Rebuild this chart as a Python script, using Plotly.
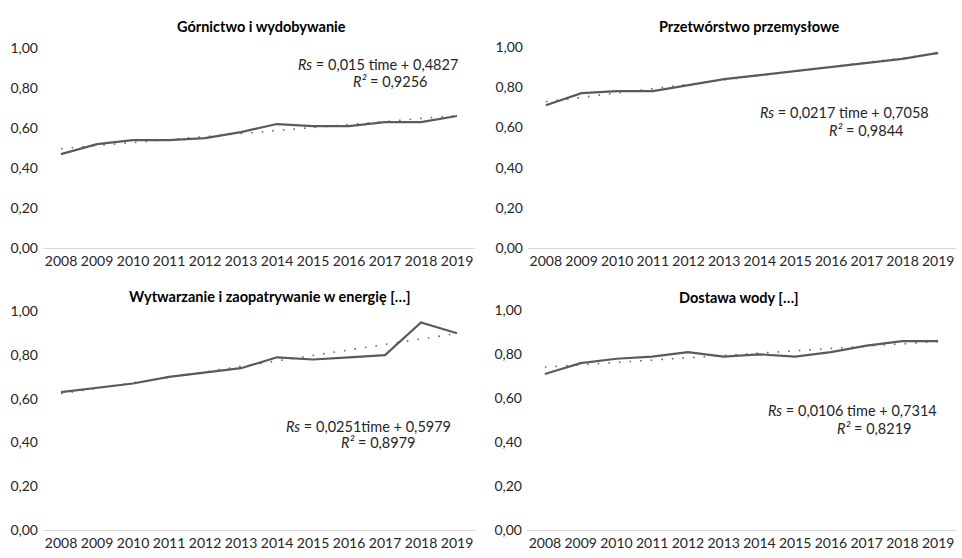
import plotly.graph_objects as go

years = [str(y) for y in range(2008, 2020)]

# Rs series per sector
gornictwo = [0.47, 0.52, 0.54, 0.54, 0.55, 0.58, 0.62, 0.61, 0.61, 0.63, 0.63, 0.66]
przetworstwo = [0.71, 0.77, 0.78, 0.78, 0.81, 0.84, 0.86, 0.88, 0.90, 0.92, 0.94, 0.97]
energia = [0.63, 0.65, 0.67, 0.70, 0.72, 0.74, 0.79, 0.78, 0.79, 0.80, 0.95, 0.90]
woda = [0.71, 0.76, 0.78, 0.79, 0.81, 0.79, 0.80, 0.79, 0.81, 0.84, 0.86, 0.86]

titles = ["Górnictwo i wydobywanie", "Przetwórstwo przemysłowe",
          "Wytwarzanie i zaopatrywanie w energię […]", "Dostawa wody […]"]

# linear trend coefficients (slope, intercept)
slopes = [0.015, 0.0217, 0.0251, 0.0106]
intercepts = [0.4827, 0.7058, 0.5979, 0.7314]
eq_texts = ["<i>Rs</i> = 0,015 time + 0,4827", "<i>Rs</i> = 0,0217 time + 0,7058",
            "<i>Rs</i> = 0,0251time + 0,5979", "<i>Rs</i> = 0,0106 time + 0,7314"]
r2_texts = ["<i>R²</i> = 0,9256", "<i>R²</i> = 0,9844", "<i>R²</i> = 0,8979", "<i>R²</i> = 0,8219"]

series = [gornictwo, przetworstwo, energia, woda]

W, H = 962, 558
# plot areas in pixels: (left, right, top(y=1.0), bottom(y=0))
areas = [(43, 475, 40, 247), (528, 956, 39, 247),
         (43, 475, 312, 537), (527, 956, 311, 537)]
title_pos = [(261, 18), (749, 18), (269, 297), (739, 298)]
# equation label anchors: (right x line1, y line1, right x line2, y line2)
eq_pos = [(460, 57, 430, 75), (931, 107, 906, 125),
          (453, 431, 418, 447), (939, 414, 914, 433)]

FONT = "Lato"
LINE = "#5a5a5a"
TXT = "#262626"

fig = go.Figure()
layout_axes = {}
annotations = []
for i in range(4):
    xa = "x" if i == 0 else f"x{i+1}"
    ya = "y" if i == 0 else f"y{i+1}"
    l, r, t, b = areas[i]
    t_idx = list(range(1, 13))
    trend = [slopes[i] * k + intercepts[i] for k in t_idx]
    fig.add_trace(go.Scatter(x=years, y=trend, mode="lines", xaxis=xa, yaxis=ya,
                             line=dict(color="#6a6a6a", width=1.6, dash="1.6px,9px"),
                             showlegend=False, hoverinfo="skip"))
    fig.add_trace(go.Scatter(x=years, y=series[i], mode="lines", xaxis=xa, yaxis=ya,
                             line=dict(color=LINE, width=2.2), showlegend=False))
    xkey = "xaxis" if i == 0 else f"xaxis{i+1}"
    ykey = "yaxis" if i == 0 else f"yaxis{i+1}"
    layout_axes[xkey] = dict(domain=[l / W, r / W], anchor=ya, type="category",
                             range=[-0.5, 11.5], showline=True, linecolor="#d9d9d9",
                             linewidth=1.3, showgrid=False, zeroline=False, ticks="",
                             tickfont=dict(family=FONT, size=14, color=TXT))
    layout_axes[ykey] = dict(domain=[1 - b / H, 1 - t / H], anchor=xa, range=[0, 1],
                             tickvals=[0, 0.2, 0.4, 0.6, 0.8, 1.0], tickformat=".2f",
                             showgrid=False, zeroline=False, showline=False, ticks="",
                             ticklabelstandoff=4,
                             tickfont=dict(family=FONT, size=14, color=TXT))
    tx, ty = title_pos[i]
    annotations.append(dict(text=f"<b>{titles[i]}</b>", x=tx / W, y=1 - ty / H,
                            xref="paper", yref="paper", showarrow=False,
                            xanchor="center", yanchor="middle",
                            font=dict(family=FONT, size=14.5, color="#000000")))
    ex1, ey1, ex2, ey2 = eq_pos[i]
    annotations.append(dict(text=eq_texts[i], x=ex1 / W, y=1 - ey1 / H, xref="paper",
                            yref="paper", showarrow=False, xanchor="right", yanchor="middle",
                            align="right", font=dict(family=FONT, size=14.5, color=TXT)))
    annotations.append(dict(text=r2_texts[i], x=ex2 / W, y=1 - ey2 / H, xref="paper",
                            yref="paper", showarrow=False, xanchor="right", yanchor="middle",
                            align="right", font=dict(family=FONT, size=14.5, color=TXT)))

fig.update_layout(width=W, height=H, margin=dict(l=0, r=0, t=0, b=0),
                  paper_bgcolor="white", plot_bgcolor="white", separators=", ",
                  annotations=annotations, **layout_axes)

fig.write_html("out.html")
